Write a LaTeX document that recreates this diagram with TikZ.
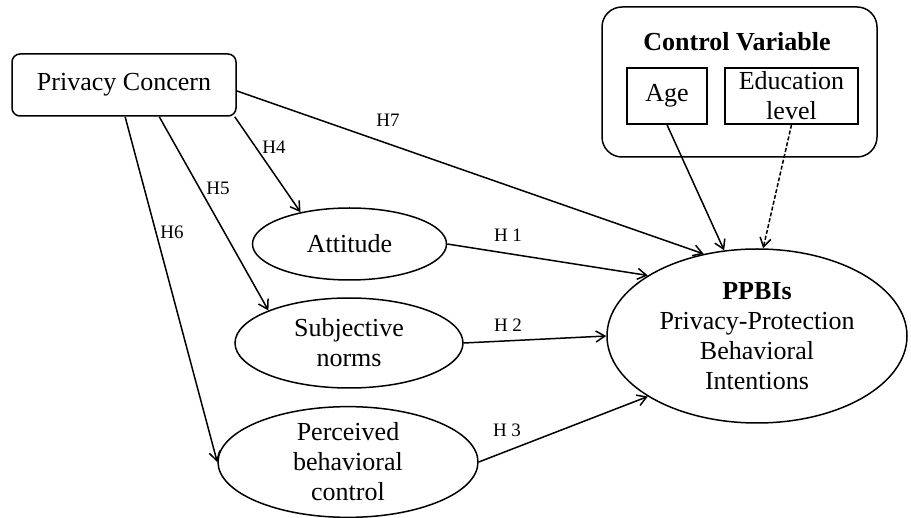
\documentclass[tikz,border=0pt]{standalone}
\usepackage{fontspec}
\setmainfont{Liberation Serif}
\usepackage{tikz}
\usetikzlibrary{positioning,shapes.geometric,arrows.meta}
\tikzset{
    basefont/.style={font=\fontsize{26}{30}\selectfont},
    arr/.style={draw, line width=1.5pt, -{Straight Barb[length=9pt, width=11pt, line width=1.5pt]}}
}

\begin{document}
\begin{tikzpicture}[
        x=1pt, y=-1pt,
        % --- NODES ---
        roundbox/.style={basefont, draw, line width=1.5pt, rounded corners=8pt, inner sep=0pt, align=center},
        varbox/.style={basefont, draw, line width=1.5pt, inner sep=0pt, align=center},
        oval/.style={basefont, ellipse, draw, line width=1.5pt, inner sep=0pt, align=center},
        hlbl/.style={font=\fontsize{19}{22}\selectfont, inner sep=1pt}
    ]
        \useasboundingbox (0,0) rectangle (911,518);

        % --- CONTROL BLOCK ---
        \node[draw, line width=1.5pt, rounded corners=20pt, minimum width=275pt, minimum height=150pt] (ctrl) at (739.5,82) {};
        \node[basefont] (ctrltitle) at (737,42) {\textbf{Control Variable}};
        \node[varbox, minimum width=80pt, minimum height=56pt] (age) at (667,96) {Age};
        \node[varbox, minimum width=133pt, minimum height=56pt] (edu) at (791.5,96) {Education\\level};

        % --- MODEL ---
        \node[roundbox, minimum width=224pt, minimum height=62pt] (pc) at (124,85) {Privacy Concern};
        \node[oval, minimum width=194pt, minimum height=72pt] (att) at (349.5,244) {Attitude};
        \node[oval, minimum width=228pt, minimum height=90pt] (sn) at (349,343) {Subjective\\norms};
        \node[oval, minimum width=260pt, minimum height=110pt] (pbc) at (348,462) {Perceived\\behavioral\\control};
        \node[oval, minimum width=300pt, minimum height=174pt] (ppbi) at (757,336) {\textbf{PPBIs}\\Privacy-Protection\\Behavioral\\Intentions};

        % --- PATHS ---
        \draw[arr] (pc.-3) -- (ppbi.123.7);
        \draw[arr] (pc.-16) -- (att.147);
        \draw[arr] (pc.-42.4) -- (sn.158);
        \draw[arr] (pc.-88) -- (pbc.west);
        \draw[arr] (att.east) -- (ppbi.151);
        \draw[arr] (sn.east) -- (ppbi.180);
        \draw[arr] (pbc.east) -- (ppbi.209.7);
        \draw[arr] (age.south) -- (ppbi.111.4);
        \draw[arr, dash pattern=on 4pt off 2pt] (edu.south) -- (ppbi.86);

        % --- LABELS ---
        \node[hlbl] (h7) at (388,120) {H7};
        \node[hlbl] (h4) at (274,147) {H4};
        \node[hlbl] (h5) at (218,188) {H5};
        \node[hlbl] (h6) at (172,232) {H6};
        \node[hlbl] (h1) at (508,235) {H 1};
        \node[hlbl] (h2) at (508,325) {H 2};
        \node[hlbl] (h3) at (507,430) {H 3};

    \end{tikzpicture}
\end{document}
